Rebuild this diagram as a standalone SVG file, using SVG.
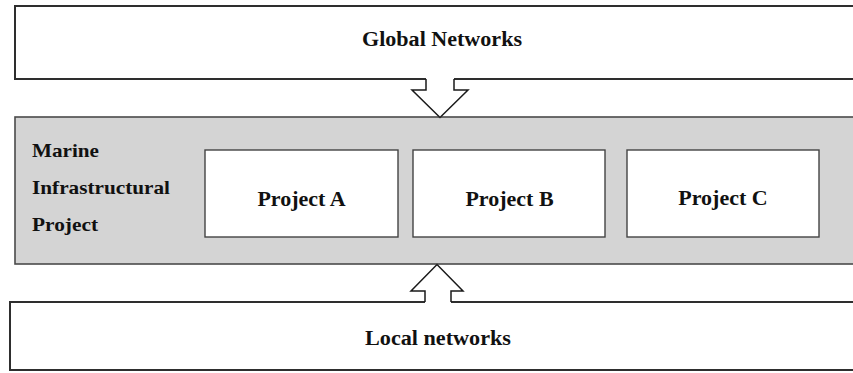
<svg xmlns="http://www.w3.org/2000/svg" width="853" height="373" viewBox="0 0 853 373">
  <style>
    .frame { fill: #ffffff; stroke: #2e2e2e; stroke-width: 2; }
    .band { fill: #d4d4d4; stroke: #4a4a4a; stroke-width: 1.6; }
    .proj { fill: #ffffff; stroke: #444444; stroke-width: 1.4; }
    .lbl { font-family: "Liberation Serif", "Times New Roman", serif; font-weight: bold; fill: #111111; }
    .big { font-size: 20px; text-anchor: middle; }
    .pl { font-size: 22px; text-anchor: middle; }
    .side { font-size: 19px; }
    .arrow-fill { fill: #ffffff; stroke: none; }
    .arrow-edge { fill: none; stroke: #1a1a1a; stroke-width: 1.5; stroke-linejoin: miter; }
  </style>

  <g id="global-networks">
    <rect class="frame" x="15" y="6" width="850" height="73"/>
    <text class="lbl big" x="442" y="46" textLength="160" lengthAdjust="spacingAndGlyphs">Global Networks</text>
  </g>

  <g id="marine-project">
    <rect class="band" x="15" y="117" width="850" height="147"/>
    <text class="lbl side" x="32" y="157" textLength="67" lengthAdjust="spacingAndGlyphs">Marine</text>
    <text class="lbl side" x="32" y="194" textLength="138" lengthAdjust="spacingAndGlyphs">Infrastructural</text>
    <text class="lbl side" x="32" y="231" textLength="66" lengthAdjust="spacingAndGlyphs">Project</text>
  </g>

  <g id="project-a">
    <rect class="proj" x="205" y="150" width="193" height="87"/>
    <text class="lbl pl" x="301.5" y="206">Project A</text>
  </g>

  <g id="project-b">
    <rect class="proj" x="413" y="150" width="192" height="87"/>
    <text class="lbl pl" x="509.5" y="206">Project B</text>
  </g>

  <g id="project-c">
    <rect class="proj" x="627" y="150" width="192" height="87"/>
    <text class="lbl pl" x="723" y="205">Project C</text>
  </g>

  <g id="local-networks">
    <rect class="frame" x="10" y="302" width="855" height="68"/>
    <text class="lbl big" x="438" y="345" textLength="146" lengthAdjust="spacingAndGlyphs">Local networks</text>
  </g>

  <g id="connectors">
    <!-- block arrow: global networks down into the project band -->
    <polygon class="arrow-fill" points="426,77 426,90 412,90 440,118 468,90 454,90 454,77"/>
    <polyline class="arrow-edge" points="426,79 426,90 412,90 440,117.5 468,90 454,90 454,79"/>
    <!-- block arrow: local networks up into the project band -->
    <polygon class="arrow-fill" points="425,303 425,291 411,291 437,264 463,291 451,291 451,303"/>
    <polyline class="arrow-edge" points="425,302 425,291 411,291 437,264.5 463,291 451,291 451,302"/>
  </g>
</svg>
